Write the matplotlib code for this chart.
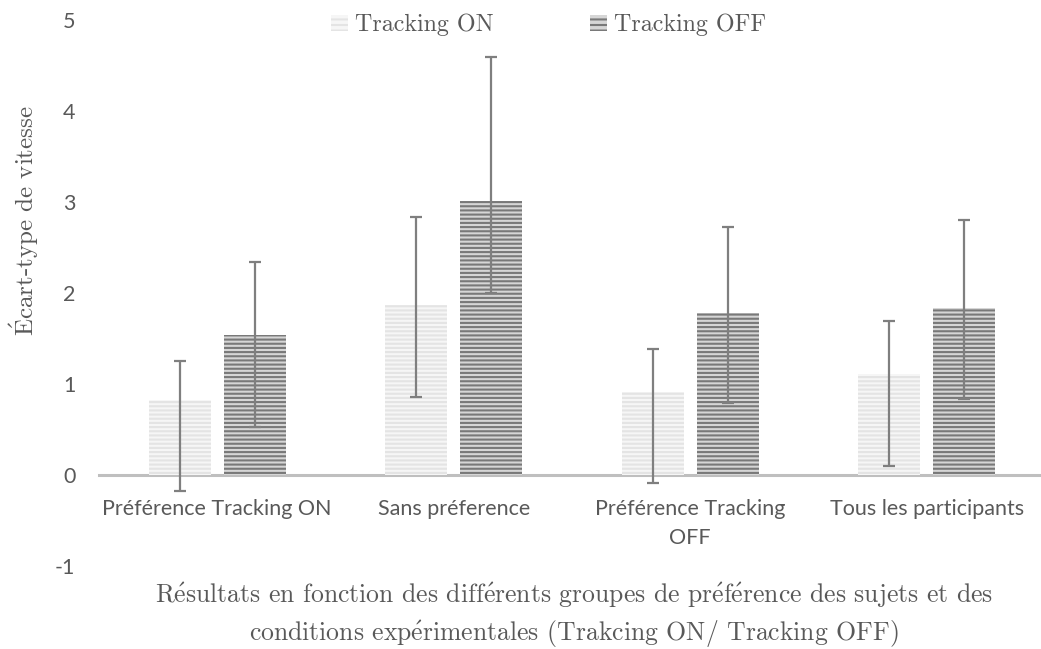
import numpy as np
import matplotlib
matplotlib.use('Agg')
import matplotlib.pyplot as plt
from matplotlib.patches import Patch

# données
groupes = ['Préférence Tracking ON', 'Sans préference', 'Préférence Tracking\nOFF', 'Tous les participants']
moy_on = [0.82, 1.87, 0.91, 1.11]
moy_off = [1.54, 3.01, 1.78, 1.83]
err_on_haut = [0.43, 0.97, 0.48, 0.58]
err_on_bas = [1.00, 1.01, 1.00, 1.01]
err_off_haut = [0.80, 1.58, 0.95, 0.97]
err_off_bas = [1.01, 1.01, 0.99, 1.00]
graduations = [-1, 0, 1, 2, 3, 4, 5]

gris_txt = '#595959'
plt.rcParams['hatch.linewidth'] = 1.5
plt.rcParams['mathtext.fontset'] = 'cm'


def cm(txt):
    # cmr10 n'a pas les accents -> passage par mathtext
    txt = txt.replace('É', r'$\mathrm{\acute{E}}$')
    txt = txt.replace('é', r'$\mathrm{\acute{e}}$')
    return txt


fig = plt.figure(figsize=(10.41, 6.49), dpi=100)
ax = fig.add_axes([99 / 1041, 83 / 649, 946 / 1041, 546 / 649])

x = np.arange(len(groupes))
larg = 0.262
dec = 0.158

ax.bar(x - dec, moy_on, larg, color='#f6f6f6', edgecolor='#e4e4e4', linewidth=0, hatch='----', zorder=2)
ax.bar(x + dec, moy_off, larg, color='#d6d6d6', edgecolor='#797979', linewidth=0, hatch='----', zorder=2)
ax.errorbar(x - dec, moy_on, yerr=[err_on_bas, err_on_haut], fmt='none', ecolor='#7f7f7f',
            elinewidth=1.6, capsize=4.5, capthick=1.6, zorder=3)
ax.errorbar(x + dec, moy_off, yerr=[err_off_bas, err_off_haut], fmt='none', ecolor='#7f7f7f',
            elinewidth=1.6, capsize=4.5, capthick=1.6, zorder=3)

ax.set_xlim(-0.5, 3.5)
ax.set_ylim(-1, 5)
ax.set_yticks(graduations)
ax.set_yticklabels([str(g) for g in graduations], fontfamily='Lato', fontsize=15.5, color=gris_txt)

for s in ['top', 'right', 'left']:
    ax.spines[s].set_visible(False)
ax.spines['bottom'].set_position(('data', 0))
ax.spines['bottom'].set_color('#bfbfbf')
ax.spines['bottom'].set_linewidth(2.2)
ax.spines['bottom'].set_zorder(1)

ax.set_xticks(x)
ax.set_xticklabels(groupes, fontfamily='Lato', fontsize=15.5, color=gris_txt, linespacing=1.6)
ax.tick_params(axis='x', length=0, pad=17)
ax.tick_params(axis='y', length=0, pad=17)

fig.text(24 / 1041, 1 - 221 / 649, cm('Écart-type de vitesse'), rotation=90, ha='center', va='center',
         fontfamily='cmr10', fontsize=18, color=gris_txt)
fig.text(0.551, 1 - 615 / 649, cm('Résultats en fonction des différents groupes de préférence des sujets et des\n'
                                  'conditions expérimentales (Trakcing ON/ Tracking OFF)'),
         ha='center', va='center', fontfamily='cmr10', fontsize=18.5, color=gris_txt, linespacing=1.4)

poignees = [Patch(facecolor='#f6f6f6', edgecolor='#e4e4e4', linewidth=0, hatch='---'),
            Patch(facecolor='#d6d6d6', edgecolor='#797979', linewidth=0, hatch='---')]
fig.legend(poignees, ['Tracking ON', 'Tracking OFF'], loc='upper center', bbox_to_anchor=(0.527, 1.012),
           ncol=2, frameon=False, prop={'family': 'cmr10', 'size': 17.3}, labelcolor=gris_txt,
           handlelength=0.7, handleheight=0.7, handletextpad=0.3, columnspacing=4.0)

plt.savefig('out.png', dpi=100)
